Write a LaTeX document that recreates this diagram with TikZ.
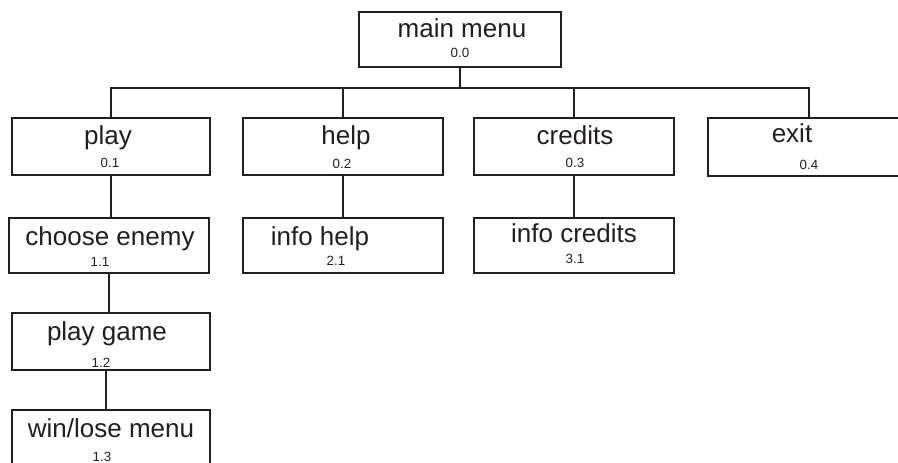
\documentclass[tikz,border=0pt]{standalone}
\usepackage{fontspec}
\setmainfont{Liberation Sans}
\definecolor{ink}{HTML}{231F20}
\begin{document}
\begin{tikzpicture}[x=0.75pt,y=-0.75pt,
  box/.style={draw=ink,line width=2pt,rectangle,inner sep=0pt,minimum height=42pt},
  ttl/.style={anchor=base,inner sep=0pt,text=ink,font=\fontsize{19.5pt}{22pt}\selectfont},
  num/.style={anchor=base,inner sep=0pt,text=ink,font=\fontsize{10pt}{12pt}\selectfont},
  link/.style={draw=ink,line width=2pt}]
\useasboundingbox (0,0) rectangle (898,463);
\clip (0,0) rectangle (898,463);
\fill[white] (0,0) rectangle (898,463);
% boxes
\node[box,minimum width=151.5pt,minimum height=41.25pt] (main) at (460,39.5) {};
\node[box,minimum width=148.5pt,minimum height=42.75pt] (play) at (111,146.5) {};
\node[box,minimum width=150pt,minimum height=42.75pt] (help) at (343,146.5) {};
\node[box,minimum width=150pt,minimum height=42.75pt] (credits) at (574,146.5) {};
\node[box,minimum width=151.5pt,minimum height=43.5pt] (exit) at (809,147) {};
\node[box,minimum width=150pt,minimum height=41.25pt] (choose) at (109,245.5) {};
\node[box,minimum width=150pt,minimum height=41.25pt] (infohelp) at (343,245.5) {};
\node[box,minimum width=150pt,minimum height=41.25pt] (infocredits) at (574,245.5) {};
\node[box,minimum width=148.5pt,minimum height=42.75pt] (playgame) at (111,341.5) {};
\node[box,minimum width=148.5pt,minimum height=42.75pt] (winlose) at (111,438.5) {};
% texts
\node[ttl] (tmain) at (462,38) {main menu};
\node[num] (nmain) at (460,58) {0.0};
\node[ttl] (tplay) at (108,145) {play};
\node[num] (nplay) at (110,168) {0.1};
\node[ttl] (thelp) at (346,145) {help};
\node[num] (nhelp) at (342,169) {0.2};
\node[ttl] (tcredits) at (575,145) {credits};
\node[num] (ncredits) at (575,168) {0.3};
\node[ttl] (texit) at (792,143) {exit};
\node[num] (nexit) at (809,170) {0.4};
\node[ttl] (tchoose) at (110,245) {choose enemy};
\node[num] (nchoose) at (100,266) {1.1};
\node[ttl] (tinfohelp) at (320,245) {info help};
\node[num] (ninfohelp) at (336,265) {2.1};
\node[ttl] (tinfocredits) at (574,243) {info credits};
\node[num] (ninfocredits) at (575,263) {3.1};
\node[ttl] (tplaygame) at (107,340) {play game};
\node[num] (nplaygame) at (101,367) {1.2};
\node[ttl] (twinlose) at (111,437) {win/lose menu};
\node[num] (nwinlose) at (102,461) {1.3};
% connectors
\coordinate (bus) at (460,88);
\draw[link] (main.south) -- (bus);
\draw[link] (play.north) |- (bus) -| (exit.north);
\draw[link] (help.north) -- (help.north |- bus);
\draw[link] (credits.north) -- (credits.north |- bus);
\draw[link] (play.south) -- (play.south |- choose.north);
\draw[link] (help.south) -- (infohelp.north);
\draw[link] (credits.south) -- (infocredits.north);
\draw[link] (choose.south) -- (choose.south |- playgame.north);
\draw[link] ([xshift=-3.75pt]playgame.south) -- ([xshift=-3.75pt]playgame.south |- winlose.north);
\end{tikzpicture}
\end{document}
